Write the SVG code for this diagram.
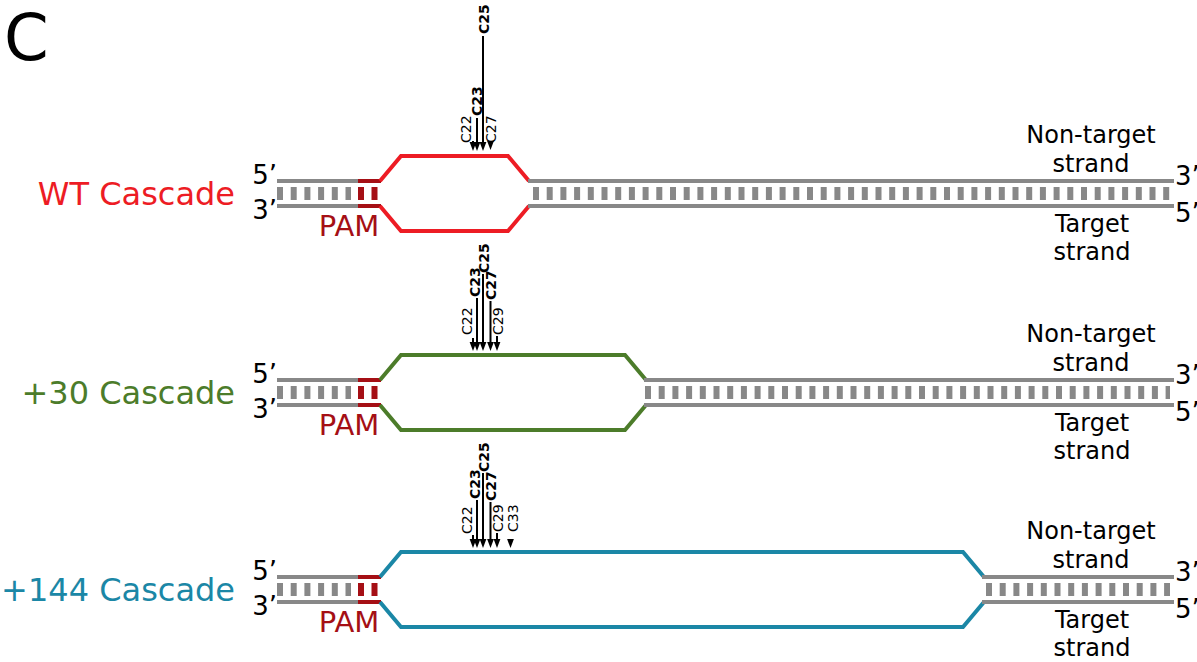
<svg xmlns="http://www.w3.org/2000/svg" width="1197" height="662" viewBox="0 0 1197 662">
<style>
text{font-family:"DejaVu Sans","Liberation Sans",sans-serif}
.strand{stroke:#888;stroke-width:4;fill:none}
.pam{stroke:#a50f15;stroke-width:4;fill:none}
.tick{stroke:#888;stroke-width:13;stroke-dasharray:6 7.7;fill:none}
.ptick{stroke:#a50f15;stroke-width:13;stroke-dasharray:6 7.5;fill:none}
.lab{font-size:26px;fill:#000}
.nt{font-size:24px;fill:#000;text-anchor:middle}
.pamt{font-size:29px;fill:#a50f15;text-anchor:middle}
.casc{font-size:32px;text-anchor:end}
.bub{fill:none;stroke-width:4;stroke-linejoin:miter}
.red{stroke:#ed1c24}.green{stroke:#4c7c2a}.teal{stroke:#1b87a6}
.cl{stroke:#000;stroke-width:2}
.cn{font-size:14px;fill:#000}
.cb{font-size:14px;font-weight:bold;fill:#000}
</style>
<defs>
<path id="ah" d="M-3.4,-9 L3.4,-9 L0,0 Z" fill="#000"/>
</defs>
<text x="4" y="60" font-size="64" fill="#000">C</text>

<g id="wt">
<text class="casc" x="235" y="205" fill="#ed1c24">WT Cascade</text>
<text class="lab" x="277" y="184" text-anchor="end">5’</text>
<text class="lab" x="277" y="219" text-anchor="end">3’</text>
<line class="strand" x1="277" y1="181" x2="358" y2="181"/>
<line class="strand" x1="277" y1="206" x2="358" y2="206"/>
<line class="tick" x1="277" y1="193.5" x2="351" y2="193.5"/>
<line class="pam" x1="358" y1="181" x2="381" y2="181"/>
<line class="pam" x1="358" y1="206" x2="381" y2="206"/>
<line class="ptick" x1="358" y1="193.5" x2="378" y2="193.5"/>
<text class="pamt" x="349" y="236">PAM</text>
<polyline class="bub red" points="380,181 401,156 508,156 529,181"/>
<polyline class="bub red" points="380,206 401,231 508,231 529,206"/>
<line class="strand" x1="528" y1="181" x2="1174" y2="181"/>
<line class="strand" x1="528" y1="206" x2="1174" y2="206"/>
<line class="tick" x1="533" y1="193.5" x2="1170" y2="193.5"/>
<text class="lab" x="1175" y="185">3’</text>
<text class="lab" x="1175" y="222">5’</text>
<text class="nt" x="1091" y="143">Non-target</text>
<text class="nt" x="1091" y="172">strand</text>
<text class="nt" x="1092" y="232">Target</text>
<text class="nt" x="1092" y="260">strand</text>
</g>

<g id="plus30">
<text class="casc" x="235" y="404" fill="#4c7c2a">+30 Cascade</text>
<text class="lab" x="277" y="383" text-anchor="end">5’</text>
<text class="lab" x="277" y="418" text-anchor="end">3’</text>
<line class="strand" x1="277" y1="380" x2="358" y2="380"/>
<line class="strand" x1="277" y1="405" x2="358" y2="405"/>
<line class="tick" x1="277" y1="392.5" x2="351" y2="392.5"/>
<line class="pam" x1="358" y1="380" x2="381" y2="380"/>
<line class="pam" x1="358" y1="405" x2="381" y2="405"/>
<line class="ptick" x1="358" y1="392.5" x2="378" y2="392.5"/>
<text class="pamt" x="349" y="435">PAM</text>
<polyline class="bub green" points="380,380 401,355 625,355 646,380"/>
<polyline class="bub green" points="380,405 401,430 625,430 646,405"/>
<line class="strand" x1="644" y1="380" x2="1174" y2="380"/>
<line class="strand" x1="644" y1="405" x2="1174" y2="405"/>
<line class="tick" x1="645" y1="392.5" x2="1170" y2="392.5"/>
<text class="lab" x="1175" y="384">3’</text>
<text class="lab" x="1175" y="421">5’</text>
<text class="nt" x="1091" y="342">Non-target</text>
<text class="nt" x="1091" y="371">strand</text>
<text class="nt" x="1092" y="431">Target</text>
<text class="nt" x="1092" y="459">strand</text>
</g>

<g id="plus144">
<text class="casc" x="235" y="601" fill="#1b87a6">+144 Cascade</text>
<text class="lab" x="277" y="580" text-anchor="end">5’</text>
<text class="lab" x="277" y="615" text-anchor="end">3’</text>
<line class="strand" x1="277" y1="577" x2="358" y2="577"/>
<line class="strand" x1="277" y1="602" x2="358" y2="602"/>
<line class="tick" x1="277" y1="589.5" x2="351" y2="589.5"/>
<line class="pam" x1="358" y1="577" x2="381" y2="577"/>
<line class="pam" x1="358" y1="602" x2="381" y2="602"/>
<line class="ptick" x1="358" y1="589.5" x2="378" y2="589.5"/>
<text class="pamt" x="349" y="632">PAM</text>
<polyline class="bub teal" points="380,577 401,552 963,552 984,577"/>
<polyline class="bub teal" points="380,602 401,627 963,627 984,602"/>
<line class="strand" x1="982" y1="577" x2="1174" y2="577"/>
<line class="strand" x1="982" y1="602" x2="1174" y2="602"/>
<line class="tick" x1="986" y1="589.5" x2="1170" y2="589.5"/>
<text class="lab" x="1175" y="581">3’</text>
<text class="lab" x="1175" y="618">5’</text>
<text class="nt" x="1091" y="539">Non-target</text>
<text class="nt" x="1091" y="568">strand</text>
<text class="nt" x="1092" y="628">Target</text>
<text class="nt" x="1092" y="656">strand</text>
</g>

<g id="connectors">
<!-- WT -->
<line class="cl" x1="473" y1="141" x2="473" y2="144"/>
<use href="#ah" x="473" y="151"/>
<line class="cl" x1="477" y1="118" x2="477" y2="144"/>
<use href="#ah" x="477" y="151"/>
<line class="cl" x1="483" y1="36" x2="483" y2="144"/>
<use href="#ah" x="483" y="151"/>
<use href="#ah" x="490.5" y="150"/>
<text class="cn" transform="translate(471,143) rotate(-90)">C22</text>
<text class="cb" transform="translate(482,116) rotate(-90)">C23</text>
<text class="cb" transform="translate(488.5,34) rotate(-90)">C25</text>
<text class="cn" transform="translate(496,143) rotate(-90)">C27</text>
<!-- +30 -->
<line class="cl" x1="473" y1="338" x2="473" y2="344"/>
<use href="#ah" x="473" y="351"/>
<line class="cl" x1="477" y1="298" x2="477" y2="344"/>
<use href="#ah" x="477" y="351"/>
<line class="cl" x1="483" y1="274" x2="483" y2="344"/>
<use href="#ah" x="483" y="351"/>
<line class="cl" x1="490.5" y1="301" x2="490.5" y2="344"/>
<use href="#ah" x="490.5" y="351"/>
<line class="cl" x1="497" y1="336" x2="497" y2="344"/>
<use href="#ah" x="497" y="351"/>
<text class="cn" transform="translate(472,335) rotate(-90)">C22</text>
<text class="cb" transform="translate(479.5,297) rotate(-90)">C23</text>
<text class="cb" transform="translate(488.5,273) rotate(-90)">C25</text>
<text class="cb" transform="translate(496,300) rotate(-90)">C27</text>
<text class="cn" transform="translate(502.5,335) rotate(-90)">C29</text>
<!-- +144 -->
<line class="cl" x1="473" y1="535" x2="473" y2="541"/>
<use href="#ah" x="473" y="548"/>
<line class="cl" x1="477" y1="500" x2="477" y2="541"/>
<use href="#ah" x="477" y="548"/>
<line class="cl" x1="483" y1="473" x2="483" y2="541"/>
<use href="#ah" x="483" y="548"/>
<line class="cl" x1="490.5" y1="502" x2="490.5" y2="541"/>
<use href="#ah" x="490.5" y="548"/>
<line class="cl" x1="497" y1="533" x2="497" y2="541"/>
<use href="#ah" x="497" y="548"/>
<use href="#ah" x="510.5" y="548"/>
<text class="cn" transform="translate(472,534) rotate(-90)">C22</text>
<text class="cb" transform="translate(479.5,499) rotate(-90)">C23</text>
<text class="cb" transform="translate(488.5,472) rotate(-90)">C25</text>
<text class="cb" transform="translate(496,501) rotate(-90)">C27</text>
<text class="cn" transform="translate(502.5,532) rotate(-90)">C29</text>
<text class="cn" transform="translate(518,532) rotate(-90)">C33</text>
</g>
</svg>
